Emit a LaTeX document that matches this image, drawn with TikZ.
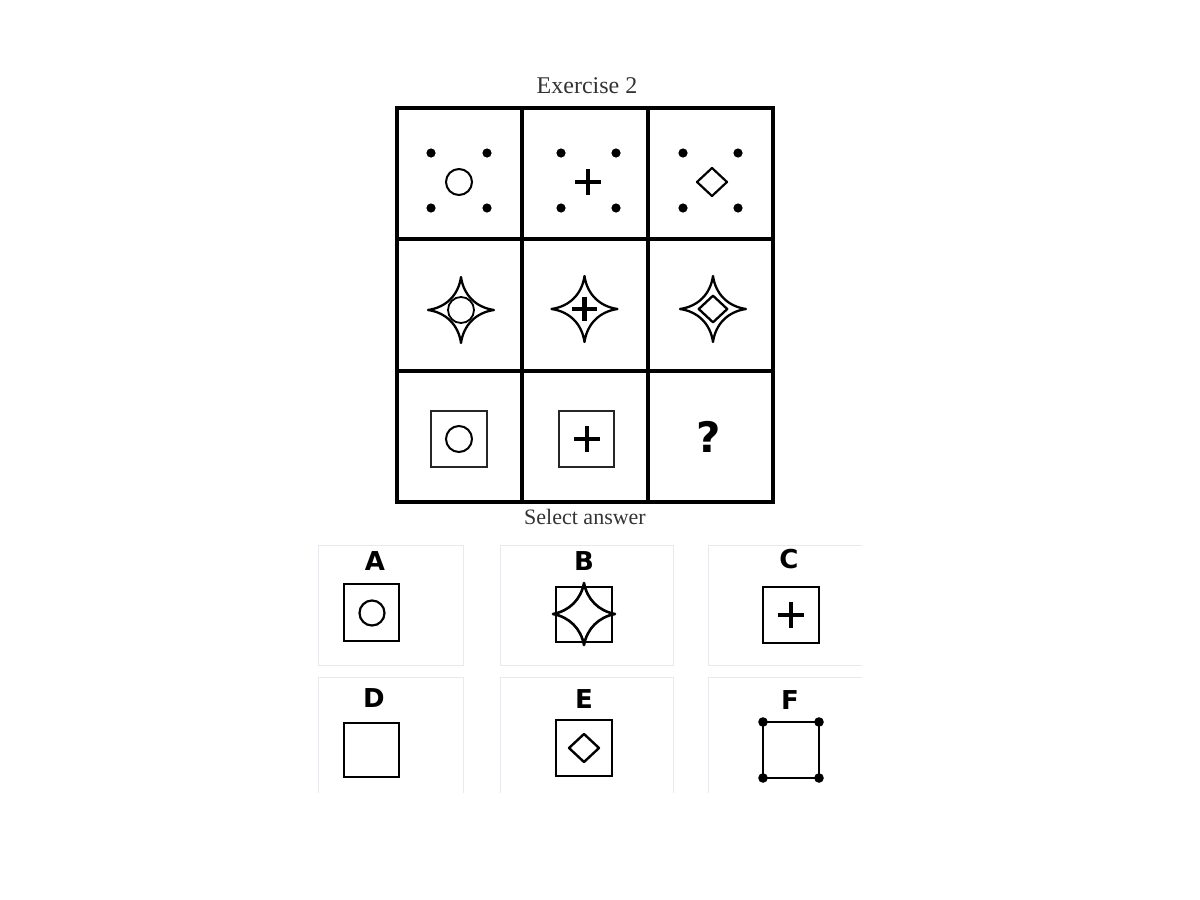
\documentclass[tikz,border=0pt]{standalone}
\usepackage{fontspec}
\setmainfont{Liberation Serif}
\newfontfamily\labfont{DejaVu Sans}
\definecolor{panelline}{HTML}{E6EAEE}
\definecolor{titlegray}{HTML}{333333}
\begin{document}
\begin{tikzpicture}[x=1pt,y=-1pt,
  gridline/.style={line width=3.6pt},
  dotmark/.style={fill=black},
  thinshape/.style={line width=2.3pt},
  panel/.style={draw=panelline,line width=1pt},
  answerlabel/.style={font=\labfont\bfseries\fontsize{26}{28}\selectfont,inner sep=0pt},
  starshape/.pic={\draw[pic actions,line join=round] (1,0) .. controls (0.45,0.08) and (0.08,0.45) .. (0,1)
      .. controls (-0.08,0.45) and (-0.45,0.08) .. (-1,0)
      .. controls (-0.45,-0.08) and (-0.08,-0.45) .. (0,-1)
      .. controls (0.08,-0.45) and (0.45,-0.08) .. cycle;},
  fatstar/.pic={\draw[pic actions,line join=round] (1,0) .. controls (0.47,0.1) and (0.1,0.47) .. (0,1)
      .. controls (-0.1,0.47) and (-0.47,0.1) .. (-1,0)
      .. controls (-0.47,-0.1) and (-0.1,-0.47) .. (0,-1)
      .. controls (0.1,-0.47) and (0.47,-0.1) .. cycle;},
  plussign/.pic={\draw[pic actions] (-13,0) -- (13,0) (0,-13) -- (0,13);},
  diamondshape/.pic={\draw[pic actions,line join=round] (15,0) -- (0,14) -- (-15,0) -- (0,-14) -- cycle;}
]
\useasboundingbox (0,0) rectangle (1200,900);
\fill[white] (0,0) rectangle (1200,900);

% titles
\node[font=\fontsize{24}{26}\selectfont,text=titlegray] (title) at (587,86) {Exercise 2};
\node[font=\fontsize{22}{24}\selectfont,text=titlegray] (select) at (585,517) {Select answer};

% grid
\draw[gridline] (397,108) rectangle (773,502);
\draw[gridline] (522,108) -- (522,502) (648,108) -- (648,502);
\draw[gridline] (397,239) -- (773,239) (397,371) -- (773,371);

% row 1
\foreach \x in {431,487,561,616,683,738}{
  \foreach \y in {153,208}{ \fill[dotmark] (\x,\y) circle (4.6); }
}
\draw[line width=2pt] (459,182) circle (13);
\pic[line width=4.4pt] at (588,182) {plussign};
\pic[line width=2.2pt] at (712,182) {diamondshape};

% row 2
\pic[thinshape,scale=33] at (461,310) {starshape};
\draw[line width=1.8pt] (461,310) circle (13);
\pic[thinshape,scale=33] at (584.5,309) {starshape};
\pic[line width=4.6pt,scale=0.95] at (584.5,309) {plussign};
\pic[thinshape,scale=33] at (713,309) {starshape};
\pic[line width=2.3pt,scale=0.95] at (713,309) {diamondshape};

% row 3
\draw[line width=2.2pt,draw=black!85] (431,411) rectangle (487,467);
\draw[line width=2pt] (459,439) circle (13);
\draw[line width=2.2pt,draw=black!85] (559,411) rectangle (614,467);
\pic[line width=4.4pt] at (587,439) {plussign};
\node[font=\labfont\bfseries\fontsize{42}{44}\selectfont,inner sep=0pt] (qmark) at (709,437) {?};

% answer panels
\draw[panel] (318,545) rectangle (463,665);
\draw[panel] (500,545) rectangle (673,665);
\draw[panel] (862,545) -- (708,545) -- (708,665) -- (862,665);
\draw[panel] (318,793) -- (318,677) -- (463,677) -- (463,793);
\draw[panel] (500,793) -- (500,677) -- (673,677) -- (673,793);
\draw[panel] (862,677) -- (708,677) -- (708,793);

% labels
\node[answerlabel] (labA) at (375,561) {A};
\node[answerlabel] (labB) at (584,561) {B};
\node[answerlabel] (labC) at (789,559) {C};
\node[answerlabel] (labD) at (374,698) {D};
\node[answerlabel] (labE) at (584,699) {E};
\node[answerlabel] (labF) at (790,700) {F};

% A
\draw[line width=2.4pt] (344,584) rectangle (399,641);
\draw[line width=2.2pt] (372,613) circle (12.5);
% B
\draw[line width=2.5pt] (556,587) rectangle (612,642);
\pic[line width=2.6pt,scale=31] at (584,614) {fatstar};
% C
\draw[line width=2.4pt] (763,587) rectangle (819,643);
\pic[line width=3.8pt] at (791,615) {plussign};
% D
\draw[line width=2.5pt] (344,723) rectangle (399,777);
% E
\draw[line width=2.5pt] (556,720) rectangle (612,776);
\pic[line width=2.4pt] at (584,748) {diamondshape};
% F
\draw[line width=2.4pt] (763,722) rectangle (819,778);
\foreach \x in {763,819}{ \foreach \y in {722,778}{ \fill[dotmark] (\x,\y) circle (4.8); } }
\end{tikzpicture}
\end{document}
